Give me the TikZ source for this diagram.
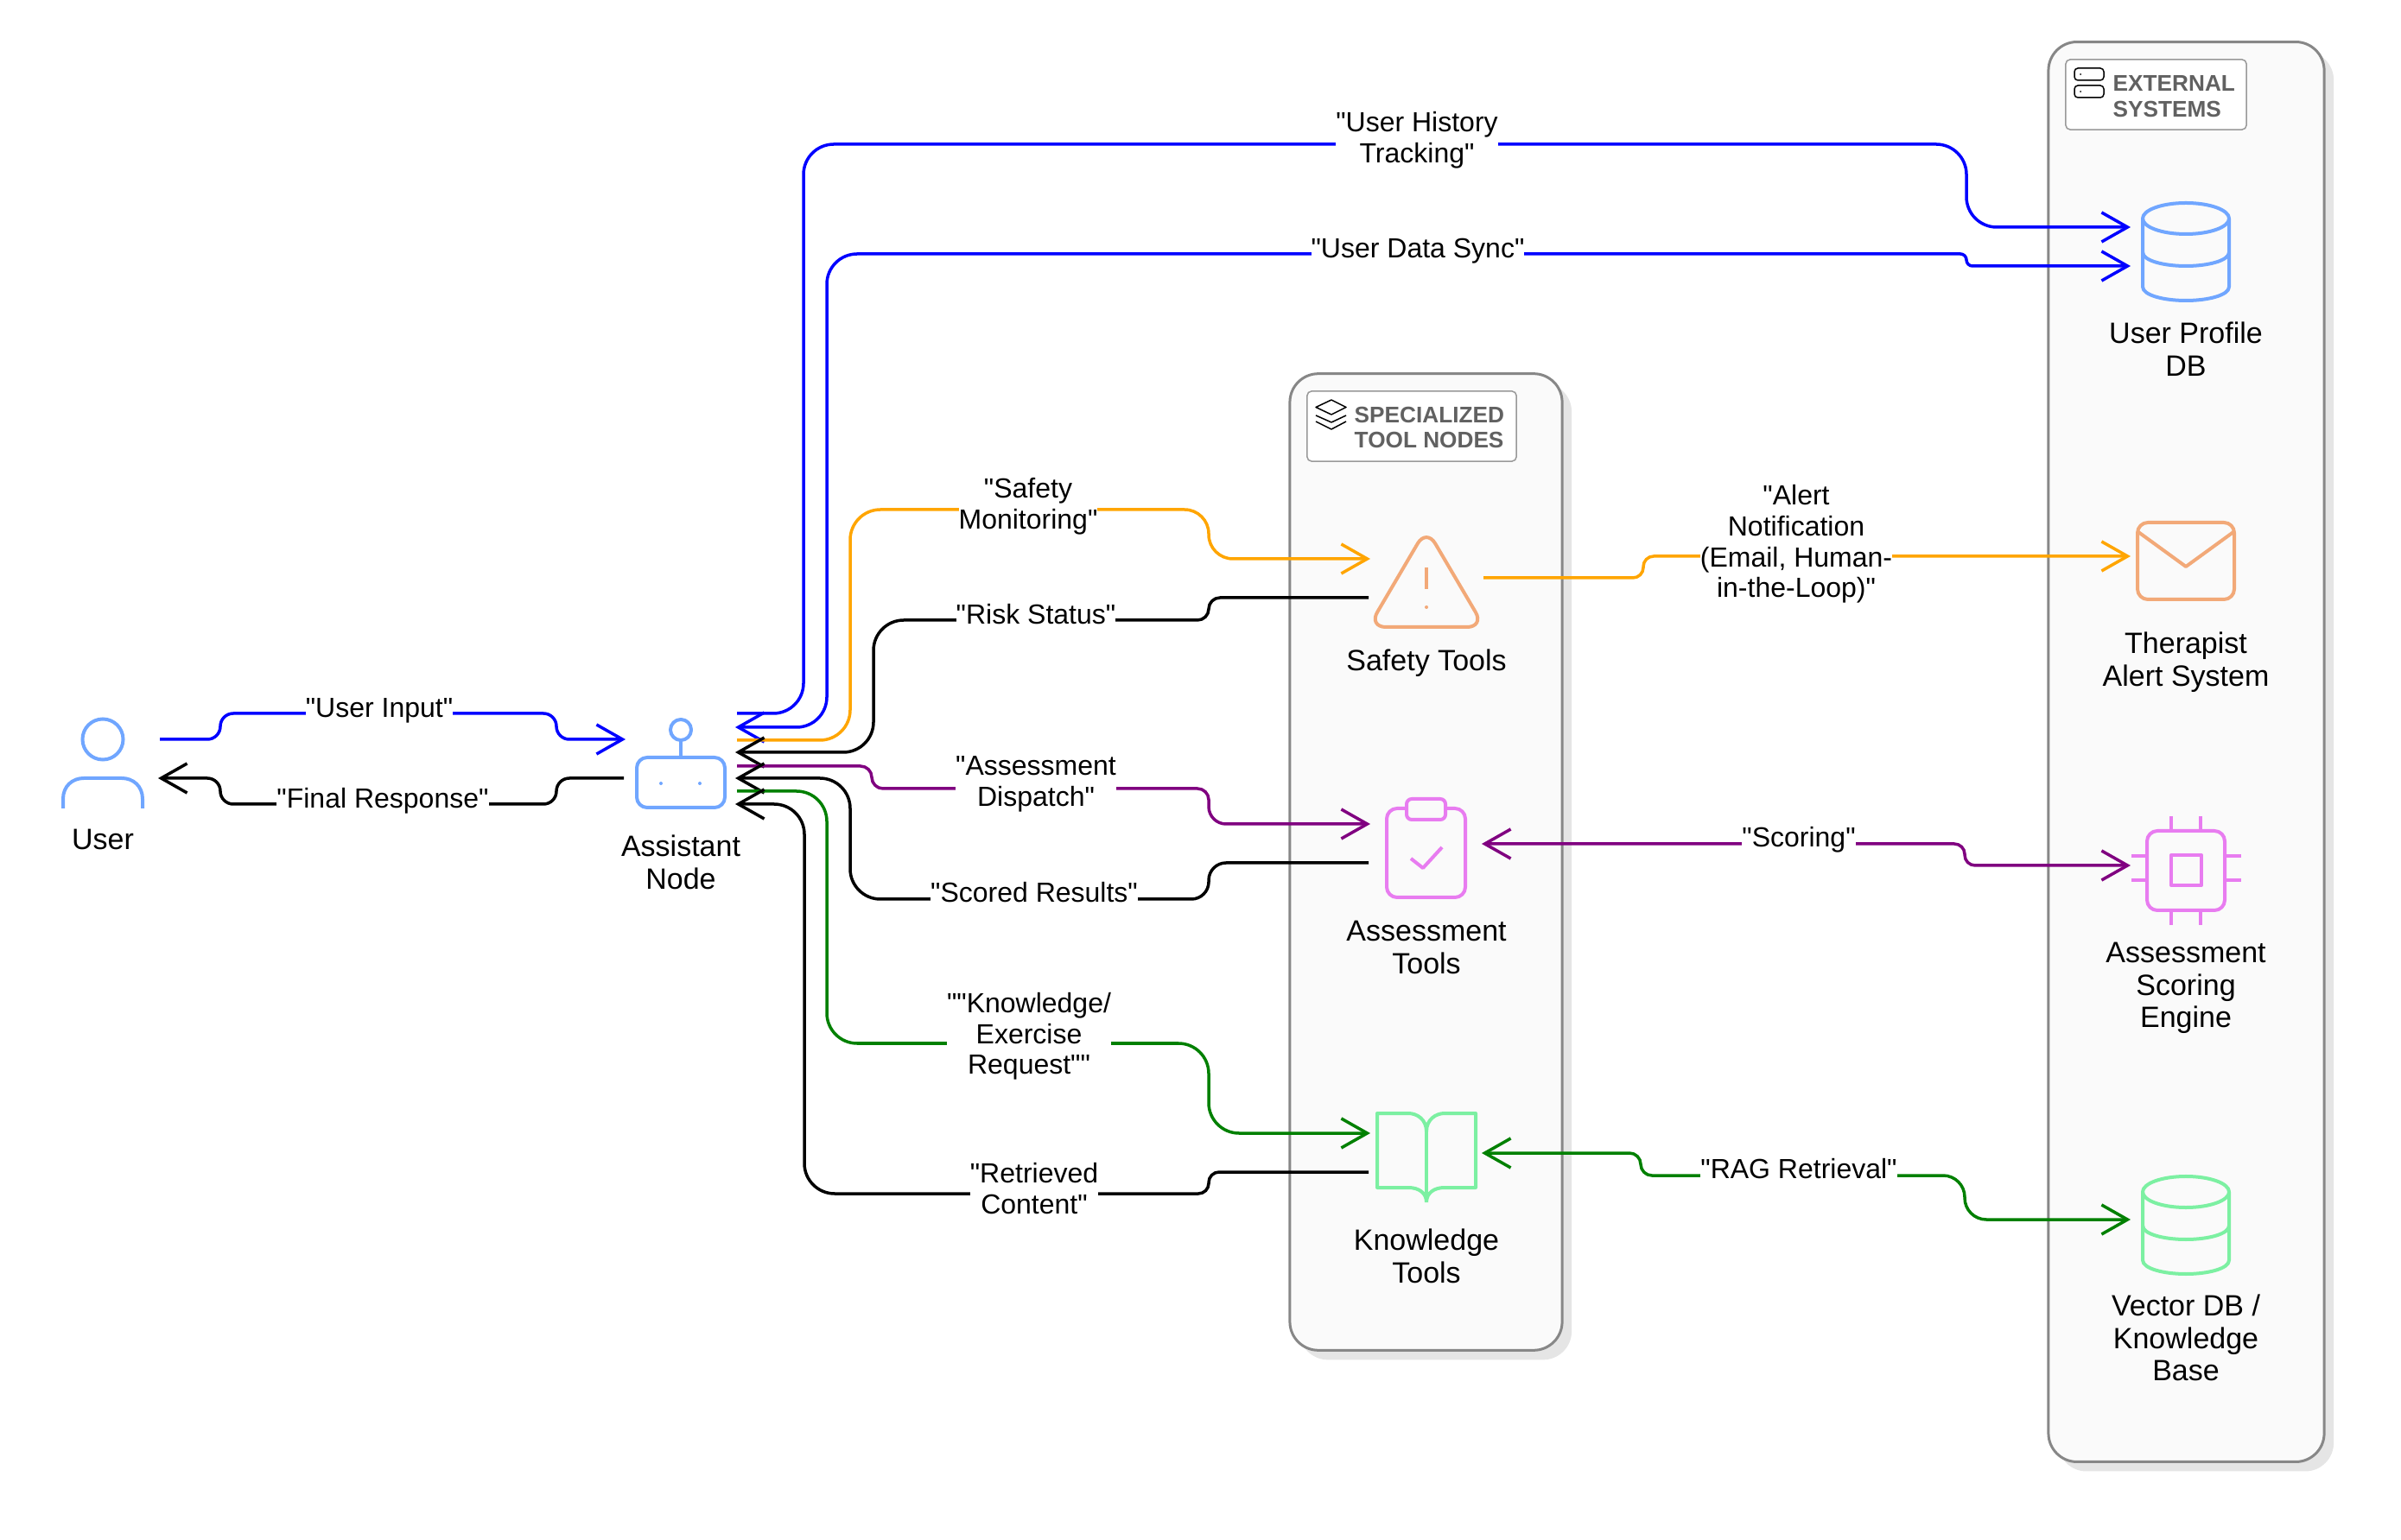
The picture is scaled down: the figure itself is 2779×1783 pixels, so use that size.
\documentclass[tikz,border=0pt]{standalone}
\usepackage{fontspec}
\setmainfont{Liberation Sans}
\newfontfamily\tagfont{Liberation Sans}
\usetikzlibrary{arrows.meta, shadows}

\definecolor{wireorange}{HTML}{FFA500}
\definecolor{wirepurple}{HTML}{800080}
\definecolor{wiregreen}{HTML}{008000}
\definecolor{iconblue}{HTML}{70A6FF}
\definecolor{iconsand}{HTML}{F2A978}
\definecolor{iconpink}{HTML}{E87CF0}
\definecolor{iconmint}{HTML}{7CF0A2}

\begin{document}
\begin{tikzpicture}[x=0.01cm, y=-0.01cm, >={Straight Barb[length=0.3cm, width=0.34cm]}]
    % Styles
    \tikzstyle{wire} = [line width=0.035cm, rounded corners=0.35cm]
    \tikzstyle{jog} = [rounded corners=0.13cm]
    \tikzstyle{flowtag} = [fill=white, inner xsep=0cm, inner ysep=0cm, align=center, font=\tagfont\fontsize{9.1}{10.1}\selectfont]
    \tikzstyle{caption} = [align=center, inner sep=0cm, font=\fontsize{9.67}{10.75}\selectfont]
    \tikzstyle{groupbox} = [rectangle, draw=black!47, line width=0.03cm, fill=black!2, rounded corners=0.33cm, drop shadow={shadow xshift=0.11cm, shadow yshift=-0.11cm, fill=black!10, opacity=1}]
    \tikzstyle{titlebox} = [rectangle, draw=black!40, line width=0.015cm, fill=white, rounded corners=0.05cm]
    \tikzstyle{grouptitle} = [anchor=west, align=left, inner sep=0cm, text=black!62, font=\fontsize{7.45}{8.5}\selectfont\bfseries]
    \tikzstyle{spot} = [rectangle, inner sep=0cm]
    \tikzstyle{icon} = [line width=0.04cm, line join=round]
    \tikzstyle{glyph} = [line width=0.015cm, line join=round]

    % Bounding box
    \useasboundingbox (0,0) rectangle (2779,1783);

    % Groups
    \node[groupbox, minimum width=3.15cm, minimum height=11.3cm] (toolGroup) at (1650.5,998) {};
    \node[groupbox, minimum width=3.19cm, minimum height=16.43cm] (extGroup) at (2530.5,870.5) {};
    \node[titlebox, minimum width=2.42cm, minimum height=0.81cm] (toolTitle) at (1634,493.5) {};
    \node[titlebox, minimum width=2.09cm, minimum height=0.81cm] (extTitle) at (2495.5,109.5) {};
    \node[grouptitle] (toolTitleText) at (1567,495) {SPECIALIZED\\TOOL NODES};
    \node[grouptitle] (extTitleText) at (2445,111.5) {EXTERNAL\\SYSTEMS};

    % Icon spots
    \node[spot, minimum width=0.92cm, minimum height=1.05cm] (user) at (119,884) {};
    \node[spot, minimum width=1.02cm, minimum height=1.02cm] (assist) at (788,884) {};
    \node[spot, minimum width=1.46cm, minimum height=1.14cm] (safety) at (1651,669) {};
    \node[spot, minimum width=0.91cm, minimum height=1.14cm] (assess) at (1651,982) {};
    \node[spot, minimum width=1.14cm, minimum height=1.03cm] (know) at (1651,1340) {};
    \node[spot, minimum width=1.03cm, minimum height=1.14cm] (userDb) at (2530,291) {};
    \node[spot, minimum width=1.13cm, minimum height=0.92cm] (mail) at (2530,649) {};
    \node[spot, minimum width=1.27cm, minimum height=1.26cm] (engine) at (2530,1008) {};
    \node[spot, minimum width=1.03cm, minimum height=1.14cm] (vectorDb) at (2530,1418) {};

    % Ports
    \coordinate (userOut) at (185,856);
    \coordinate (userIn) at (183,901);
    \coordinate (assistIn) at (724,856);
    \coordinate (assistOut) at (722,901);
    \coordinate (assistA) at (853,826);
    \coordinate (assistB) at (851,842);
    \coordinate (assistC) at (853,857);
    \coordinate (assistD) at (851,871);
    \coordinate (assistE) at (853,887);
    \coordinate (assistF) at (851,901);
    \coordinate (assistG) at (853,916);
    \coordinate (assistH) at (851,931);
    \coordinate (safetyIn) at (1586,647);
    \coordinate (safetyOut) at (1584,692);
    \coordinate (safetyAlert) at (1717,669);
    \coordinate (assessIn) at (1586,954);
    \coordinate (assessOut) at (1584,999);
    \coordinate (assessScore) at (1715,977);
    \coordinate (knowIn) at (1586,1312);
    \coordinate (knowOut) at (1584,1357);
    \coordinate (knowRag) at (1715,1335);
    \coordinate (userDbA) at (2466,263);
    \coordinate (userDbB) at (2466,308);
    \coordinate (mailIn) at (2466,644);
    \coordinate (engineIn) at (2466,1002);
    \coordinate (vectorDbIn) at (2466,1412);

    % Arrows
    \draw[wire, blue, ->, rounded corners=0.15cm] (userOut) -- (255,856) -- (255,826) -- (644,826) -- (644,856) -- (assistIn);
    \draw[wire, black, ->, rounded corners=0.15cm] (assistOut) -- (644,901) -- (644,931) -- (255,931) -- (255,901) -- (userIn);
    \draw[wire, blue, ->] (assistA) -- (930,826) -- (930,167) -- (2276,167) -- (2276,263) -- (userDbA);
    \draw[wire, blue, <->] (assistB) -- (957,842) -- (957,294) [rounded corners=0.07cm] -- (2276,294) -- (2276,308) -- (userDbB);
    \draw[wire, wireorange, ->] (assistC) -- (984,857) -- (984,590) [rounded corners=0.28cm] -- (1399,590) -- (1399,647) -- (safetyIn);
    \draw[wire, black, <-] (assistD) -- (1011,871) -- (1011,718) [jog] -- (1399,718) -- (1399,692) -- (safetyOut);
    \draw[wire, wirepurple, ->] (assistE) [jog] -- (1009,887) -- (1009,913) -- (1399,913) [rounded corners=0.2cm] -- (1399,954) -- (assessIn);
    \draw[wire, black, <-] (assistF) -- (984,901) -- (984,1041) [rounded corners=0.2cm] -- (1399,1041) -- (1399,999) -- (assessOut);
    \draw[wire, wiregreen, ->] (assistG) -- (957,916) -- (957,1208) -- (1399,1208) -- (1399,1312) -- (knowIn);
    \draw[wire, black, <-] (assistH) -- (931,931) -- (931,1382) [rounded corners=0.12cm] -- (1399,1382) -- (1399,1357) -- (knowOut);
    \draw[wire, wireorange, ->, rounded corners=0.12cm] (safetyAlert) -- (1902,669) -- (1902,644) -- (mailIn);
    \draw[wire, wirepurple, <->, rounded corners=0.12cm] (assessScore) -- (2274,977) -- (2274,1002) -- (engineIn);
    \draw[wire, wiregreen, <->, jog] (knowRag) -- (1899,1335) -- (1899,1361) [rounded corners=0.25cm] -- (2274,1361) -- (2274,1412) -- (vectorDbIn);

    % Arrow labels
    \node[flowtag] (tagInput) at (439,823) {"User Input"};
    \node[flowtag] (tagFinal) at (443,927) {"Final Response"};
    \node[flowtag] (tagHistory) at (1640,162) {"User History\\Tracking"};
    \node[flowtag] (tagSync) at (1641,291) {"User Data Sync"};
    \node[flowtag] (tagMonitor) at (1190,586) {"Safety\\Monitoring"};
    \node[flowtag] (tagRisk) at (1199,711) {"Risk Status"};
    \node[flowtag] (tagDispatch) at (1199,908) {"Assessment\\Dispatch"};
    \node[flowtag] (tagScored) at (1197,1033) {"Scored Results"};
    \node[flowtag] (tagRequest) at (1191,1200) {""Knowledge/\\Exercise\\Request""};
    \node[flowtag] (tagContent) at (1197,1376) {"Retrieved\\Content"};
    \node[flowtag] (tagAlert) at (2079,630) {"Alert\\Notification\\(Email, Human-\\in-the-Loop)"};
    \node[flowtag] (tagScoring) at (2082,972) {"Scoring"};
    \node[flowtag] (tagRag) at (2082,1353) {"RAG Retrieval"};

    % Captions
    \node[caption] (userText) at (119,972) {User};
    \node[caption] (assistText) at (788,998) {Assistant\\Node};
    \node[caption] (safetyText) at (1651,768) {Safety Tools};
    \node[caption] (assessText) at (1651,1097) {Assessment\\Tools};
    \node[caption] (knowText) at (1651,1454) {Knowledge\\Tools};
    \node[caption] (userDbText) at (2530,404) {User Profile\\DB};
    \node[caption] (mailText) at (2530,767) {Therapist\\Alert System};
    \node[caption] (engineText) at (2530,1144) {Assessment\\Scoring\\Engine};
    \node[caption] (vectorDbText) at (2530,1549) {Vector DB /\\Knowledge\\Base};

    % User icon
    \draw[icon, iconblue] (119,856) circle[radius=0.235cm];
    \draw[icon, iconblue] (73,936) -- (73,925) .. controls (73,910) and (84,901) .. (97,901) -- (141,901) .. controls (154,901) and (165,910) .. (165,925) -- (165,936);
    % Assistant icon
    \draw[icon, iconblue, rounded corners=0.12cm] (737,877) rectangle (839,935);
    \draw[icon, iconblue] (788,845) circle[radius=0.12cm];
    \draw[icon, iconblue] (788,857) -- (788,877);
    \fill[iconblue] (765,907) circle[radius=0.02cm] (810,907) circle[radius=0.02cm];
    % Safety icon
    \draw[icon, iconsand, rounded corners=0.2cm] (1651,612) -- (1718,726) -- (1584,726) -- cycle;
    \draw[icon, iconsand] (1651,657) -- (1651,682);
    \fill[iconsand] (1651,703) circle[radius=0.02cm];
    % Assessment icon
    \draw[icon, iconpink, rounded corners=0.12cm] (1605,936) rectangle (1696,1039);
    \draw[icon, iconpink, fill=black!2, rounded corners=0.06cm] (1628,925) rectangle (1673,949);
    \draw[icon, iconpink] (1633,994) -- (1647,1005) -- (1669,981);
    % Knowledge icon
    \draw[icon, iconmint] (1651,1310) .. controls (1651,1296) and (1640,1289) .. (1630,1289) -- (1594,1289) -- (1594,1375) -- (1630,1375) .. controls (1642,1375) and (1651,1381) .. (1651,1392);
    \draw[icon, iconmint] (1651,1310) .. controls (1651,1296) and (1662,1289) .. (1672,1289) -- (1708,1289) -- (1708,1375) -- (1672,1375) .. controls (1660,1375) and (1651,1381) .. (1651,1392);
    \draw[icon, iconmint] (1651,1310) -- (1651,1392);
    % Database icons
    \foreach \dbcolor/\dbtop in {iconblue/235, iconmint/1362} {
        \draw[icon, \dbcolor] (2530,\dbtop+18) ellipse[x radius=0.5cm, y radius=0.18cm];
        \draw[icon, \dbcolor] (2480,\dbtop+18) -- (2480,\dbtop+97) .. controls (2480,\dbtop+107) and (2505,\dbtop+113) .. (2530,\dbtop+113) .. controls (2555,\dbtop+113) and (2580,\dbtop+107) .. (2580,\dbtop+97) -- (2580,\dbtop+18);
        \draw[icon, \dbcolor] (2480,\dbtop+57) .. controls (2480,\dbtop+67) and (2505,\dbtop+73) .. (2530,\dbtop+73) .. controls (2555,\dbtop+73) and (2580,\dbtop+67) .. (2580,\dbtop+57);
    }
    % Mail icon
    \draw[icon, iconsand, rounded corners=0.12cm] (2474,605) rectangle (2586,694);
    \draw[icon, iconsand] (2475,616) -- (2530,656) -- (2585,616);
    % Engine icon
    \draw[icon, iconpink, rounded corners=0.12cm] (2485,962) rectangle (2575,1054);
    \draw[icon, iconpink] (2513,990) rectangle (2548,1025);
    \foreach \pinx in {2513, 2547} {
        \draw[icon, iconpink] (\pinx,945) -- (\pinx,962);
        \draw[icon, iconpink] (\pinx,1054) -- (\pinx,1071);
    }
    \foreach \piny in {991, 1019} {
        \draw[icon, iconpink] (2467,\piny) -- (2485,\piny);
        \draw[icon, iconpink] (2575,\piny) -- (2594,\piny);
    }
    % Title glyphs
    \draw[glyph] (1523,471.5) -- (1541,463) -- (1558,471.5) -- (1541,480) -- cycle;
    \draw[glyph] (1523,481) -- (1541,489) -- (1558,481);
    \draw[glyph] (1523,488) -- (1541,497) -- (1558,488);
    \draw[glyph, rounded corners=0.04cm] (2401,79) rectangle (2435,93);
    \draw[glyph, rounded corners=0.04cm] (2401,99) rectangle (2435,113);
    \fill (2408,86) circle[radius=0.01cm] (2408,106) circle[radius=0.01cm];
\end{tikzpicture}
\end{document}
